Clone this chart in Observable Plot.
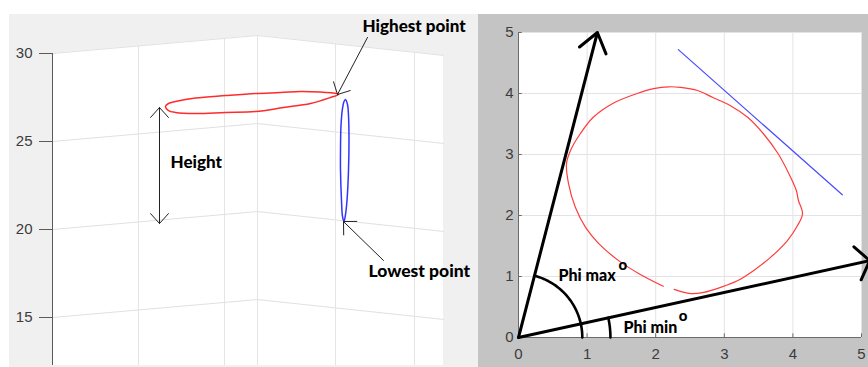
<!DOCTYPE html>
<html><head><meta charset="utf-8">
<script src="https://cdn.jsdelivr.net/npm/d3@7"></script>
<script src="https://cdn.jsdelivr.net/npm/@observablehq/plot@0.6"></script>
<style>
body{margin:0;background:#fff;}
#wrap{position:relative;width:868px;height:367px;overflow:hidden;background:#fff;}
#left{position:absolute;left:9px;top:14px;width:469px;height:353px;overflow:hidden;}
#right{position:absolute;left:478px;top:14px;width:390px;height:353px;overflow:hidden;}
svg{display:block;}
</style></head><body>
<div id="wrap"><div id="left"></div><div id="right"></div></div>
<script>
// ---------- LEFT PANEL (3-D view, z values) ----------
const zTicks = [15, 20, 25, 30];
const zTop = 30;
const zFloor = 12.27;
const wallU = [0, 205, 391];          // back-wall corners (horizontal screen units)
const wallTilt = [0, 1.02, -0.11];    // apparent z-shift of the wall at those corners
const vGridU = [86, 172, 205, 283, 362];

const redU = [113,116,123,143,173,203,228,248,268,280,286,278,258,231,203,173,143,123,116];
const redZ = [26.99,27.16,27.27,27.47,27.61,27.73,27.78,27.84,27.81,27.76,27.67,27.50,27.16,26.93,26.70,26.65,26.59,26.65,26.76];
const blueU = [293,295,296,296.5,296,294.5,293,291.5,290,289,288,288,288.5,290,291.5];
const blueZ = [27.39,27.10,26.48,25.06,23.35,21.65,20.85,20.45,20.74,21.65,23.35,24.49,25.91,26.88,27.27];

const heightU = 107, heightTopZ = 26.93, heightBottomZ = 20.34;
const highArrow = {u1: 315, z1: 30.91, u2: 285, z2: 27.67};
const lowArrow  = {u1: 331, z1: 18.24, u2: 291, z2: 20.45};
const leftLabels = ["Height", "Highest point", "Lowest point"];
const leftLabelU = [118, 310, 316];
const leftLabelZ = [23.81, 31.53, 17.61];
const leftLabelSize = [17, 17, 17.5];

// ---------- RIGHT PANEL (2-D view) ----------
const ticks5 = [0, 1, 2, 3, 4, 5];
const loopX = [2.11,1.75,1.46,1.17,0.98,0.83,0.73,0.70,0.76,0.90,1.09,1.38,1.73,1.97,2.19,2.36,2.61,2.84,3.09,3.34,3.57,3.78,3.94,4.05,4.08,4.14,4.07,3.92,3.67,3.43,3.19,2.94,2.70,2.51,2.27];
const loopY = [0.84,1.05,1.26,1.54,1.80,2.13,2.52,2.85,3.07,3.34,3.61,3.84,4.00,4.08,4.11,4.10,4.05,3.93,3.80,3.61,3.34,3.02,2.69,2.41,2.25,2.03,1.84,1.59,1.31,1.10,0.93,0.82,0.74,0.72,0.79];
const blueLineX = [2.33, 4.72];
const blueLineY = [4.72, 2.34];
const arrowTipX = [1.15, 5.12];
const arrowTipY = [5.00, 1.26];
const arcRadiusX = [0.93, 1.34];     // Phi max arc, Phi min arc (where they meet the x axis)
const phiLabels = ["Phi max", "Phi min"];
const phiLabelX = [0.583, 1.531];
const phiLabelY = [1.016, 0.164];
const degreeX = [1.52, 2.40];
const degreeY = [1.18, 0.35];

// ---------- helpers ----------
function tiltAt(u) {
  for (let i = 0; i < wallU.length - 1; i++) {
    if (u <= wallU[i + 1]) {
      const t = (u - wallU[i]) / (wallU[i + 1] - wallU[i]);
      return wallTilt[i] + t * (wallTilt[i + 1] - wallTilt[i]);
    }
  }
  return wallTilt[wallTilt.length - 1];
}
const wallRows = wallU.map((u, i) => ({u, top: zTop + wallTilt[i]}));
const gridRows = zTicks.flatMap(z => wallU.map((u, i) => ({u, z: z + wallTilt[i], level: z})));
const redRows = redU.map((u, i) => ({u, z: redZ[i]}));
const blueRows = blueU.map((u, i) => ({u, z: blueZ[i]}));
const labelRowsL = leftLabels.map((t, i) => ({t, u: leftLabelU[i], z: leftLabelZ[i], s: leftLabelSize[i]}));
const heightMid = (heightTopZ + heightBottomZ) / 2;

const annotFont = "Lato, 'Open Sans', sans-serif";
const intFmt = d => String(d);

const left = Plot.plot({
  width: 469, height: 353,
  marginLeft: 43, marginRight: 35, marginTop: 39, marginBottom: 50,
  x: {domain: [0, 391], axis: null},
  y: {domain: [15, 30], axis: null},
  style: {background: "#f0f0f0", fontFamily: "'Liberation Sans', Arial, sans-serif", fontSize: "15px", overflow: "visible"},
  marks: [
    Plot.areaY(wallRows, {x: "u", y1: zFloor, y2: "top", fill: "white", curve: "linear"}),
    Plot.line(gridRows, {x: "u", y: "z", z: "level", stroke: "#e1e1e1", strokeWidth: 1}),
    Plot.ruleX(vGridU, {x: d => d, y1: zFloor, y2: d => zTop + tiltAt(d), stroke: "#e4e4e4", strokeWidth: 1}),
    Plot.ruleX([0], {y1: zFloor, y2: zTop, stroke: "#5a5a5a", strokeWidth: 1}),
    Plot.axisY({ticks: zTicks, tickFormat: intFmt, anchor: "left", tickSize: 13, tickPadding: 7, label: null, fontSize: 15, color: "#3c3c3c", stroke: "#5a5a5a"}),
    Plot.line(redRows, {x: "u", y: "z", stroke: "#ff2a2a", strokeWidth: 1.5, curve: "catmull-rom-closed"}),
    Plot.line(blueRows, {x: "u", y: "z", stroke: "#3333ff", strokeWidth: 1.5, curve: "catmull-rom-closed"}),
    Plot.arrow([heightTopZ, heightBottomZ], {x1: heightU, y1: heightMid, x2: heightU, y2: d => d, stroke: "#222", strokeWidth: 1, headAngle: 84, headLength: 20}),
    Plot.arrow([highArrow, lowArrow], {x1: "u1", y1: "z1", x2: "u2", y2: "z2", stroke: "#222", strokeWidth: 1, headAngle: 90, headLength: 20}),
    Plot.text(labelRowsL, {x: "u", y: "z", text: "t", textAnchor: "start", fontFamily: annotFont, fontWeight: 900, fontSize: "s", fill: "#000"})
  ]
});
document.getElementById("left").appendChild(left);

// ---------- right plot ----------
const RW = 390, RH = 353, RML = 40, RMR = 7, RMT = 18, RMB = 30;
const xPx = (RW - RML - RMR) / 5, yPx = (RH - RMT - RMB) / 5;
const loopRows = loopX.map((x, i) => ({x, y: loopY[i]}));
const blueRows2 = blueLineX.map((x, i) => ({x, y: blueLineY[i]}));
const arrowRows = arrowTipX.map((x, i) => ({x1: 0, y1: 0, x2: x, y2: arrowTipY[i]}));
const phiMaxAngle = Math.atan2(arrowTipY[0] * yPx, arrowTipX[0] * xPx);
const phiMinAngle = Math.atan2(arrowTipY[1] * yPx, arrowTipX[1] * xPx);
function arc(rx, a1, n = 40) {
  const ry = rx * xPx / yPx;
  return d3.range(n + 1).map(k => { const a = a1 * k / n; return {x: rx * Math.cos(a), y: ry * Math.sin(a)}; });
}
const arcRows = [
  ...arc(arcRadiusX[0], phiMaxAngle).map(d => ({...d, k: "max"})),
  ...arc(arcRadiusX[1], phiMinAngle).map(d => ({...d, k: "min"}))
];
const phiRows = phiLabels.map((t, i) => ({t, x: phiLabelX[i], y: phiLabelY[i]}));
const degRows = degreeX.map((x, i) => ({x, y: degreeY[i]}));

const right = Plot.plot({
  width: RW, height: RH,
  marginLeft: RML, marginRight: RMR, marginTop: RMT, marginBottom: RMB,
  x: {domain: [0, 5], axis: null},
  y: {domain: [0, 5], axis: null},
  style: {background: "#c4c4c4", fontFamily: "'Liberation Sans', Arial, sans-serif", fontSize: "15px", overflow: "visible"},
  marks: [
    Plot.frame({fill: "white", stroke: null}),
    Plot.gridX({ticks: ticks5, stroke: "#e3e3e3", strokeOpacity: 1}),
    Plot.gridY({ticks: ticks5, stroke: "#e3e3e3", strokeOpacity: 1}),
    Plot.ruleX([0], {y1: 0, y2: 5, stroke: "#6a6a6a"}),
    Plot.ruleY([0], {x1: 0, x2: 5, stroke: "#6a6a6a"}),
    Plot.ruleX(ticks5, {x: d => d, y1: 0, y2: 0.06, stroke: "#6a6a6a"}),
    Plot.ruleY(ticks5, {y: d => d, x1: 0, x2: 0.055, stroke: "#6a6a6a"}),
    Plot.axisX({ticks: ticks5, tickFormat: intFmt, anchor: "bottom", tickSize: 0, tickPadding: 11, label: null, fontSize: 15, color: "#3c3c3c"}),
    Plot.axisY({ticks: ticks5, tickFormat: intFmt, anchor: "left", tickSize: 0, tickPadding: 5, label: null, fontSize: 15, color: "#3c3c3c"}),
    Plot.line(loopRows, {x: "x", y: "y", stroke: "#ff3c3c", strokeWidth: 1.2, curve: "catmull-rom"}),
    Plot.line(blueRows2, {x: "x", y: "y", stroke: "#4a4aff", strokeWidth: 1.2}),
    Plot.line(arcRows, {x: "x", y: "y", z: "k", stroke: "black", strokeWidth: 2.6}),
    Plot.arrow(arrowRows.slice(0, 1), {x1: "x1", y1: "y1", x2: "x2", y2: "y2", stroke: "black", strokeWidth: 3, headAngle: 73, headLength: 11.5}),
    Plot.arrow(arrowRows.slice(1), {x1: "x1", y1: "y1", x2: "x2", y2: "y2", stroke: "black", strokeWidth: 3, headAngle: 107, headLength: 10.5}),
    Plot.text(phiRows, {x: "x", y: "y", text: "t", textAnchor: "start", fontFamily: annotFont, fontWeight: 900, fontSize: 16, fill: "#000"}),
    Plot.text(degRows, {x: "x", y: "y", text: () => "o", fontFamily: annotFont, fontWeight: 900, fontSize: 15, fill: "#000"})
  ]
});
document.getElementById("right").appendChild(right);
</script>
</body></html>
